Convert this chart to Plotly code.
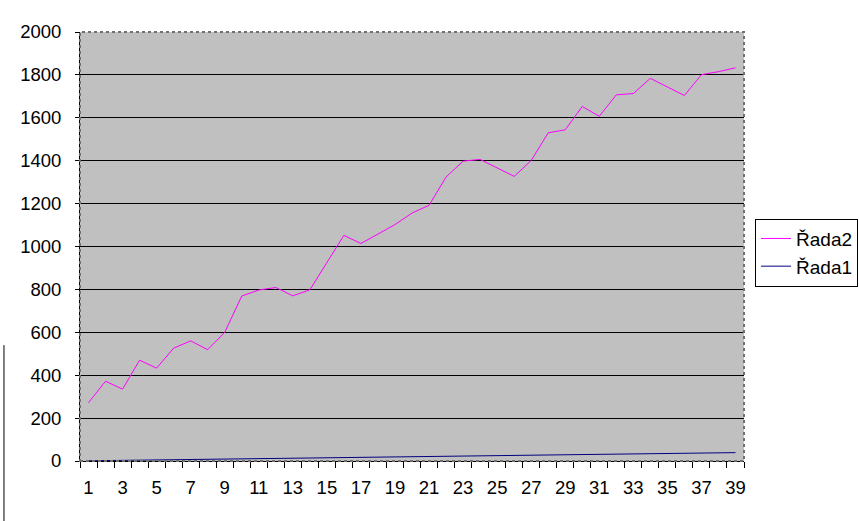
import plotly.graph_objects as go

categories = list(range(1, 40))
rada2 = [272, 372, 335, 470, 433, 526, 560, 519, 600, 769,
         797, 809, 770, 798, 925, 1052, 1014, 1060, 1102, 1156,
         1192, 1324, 1398, 1406, 1367, 1327, 1401, 1530, 1544, 1653,
         1607, 1707, 1713, 1784, 1744, 1704, 1801, 1815, 1833]
rada1 = [1, 2, 3, 4, 5, 6, 7, 8, 9, 10,
         11, 12, 13, 14, 15, 16, 17, 18, 19, 20,
         21, 22, 23, 24, 25, 26, 27, 28, 29, 30,
         31, 32, 33, 34, 35, 36, 37, 38, 39]
x_tick_labels = [str(c) for c in categories[::2]]
y_ticks = list(range(0, 2001, 200))

fig = go.Figure()
fig.add_trace(go.Scatter(x=categories, y=rada1, mode="lines", name="Řada1",
                         line=dict(color="#000080", width=1)))
fig.add_trace(go.Scatter(x=categories, y=rada2, mode="lines", name="Řada2",
                         line=dict(color="#FF00FF", width=1)))

font = "Liberation Sans, Arial, sans-serif"
fig.update_layout(
    width=859, height=521,
    margin=dict(l=80, r=115, t=32, b=60, autoexpand=False),
    paper_bgcolor="white",
    plot_bgcolor="#C0C0C0",
    font=dict(family=font, size=18.5, color="black"),
    showlegend=True,
    legend=dict(x=1.0166, y=0.565, xanchor="left", yanchor="top",
                traceorder="reversed", bordercolor="black", borderwidth=1,
                bgcolor="white", font=dict(size=19),
                itemwidth=30, tracegroupgap=0),
    xaxis=dict(range=[0.5, 39.5], tickmode="array",
               tickvals=categories[::2], ticktext=x_tick_labels,
               ticks="", showgrid=False, zeroline=False,
               showline=True, linecolor="black", linewidth=1,
               ticklabelstandoff=10,
               minor=dict(tickvals=[c - 0.5 for c in categories] + [39.5],
                          ticks="outside", ticklen=6, tickcolor="black",
                          tickwidth=1, showgrid=False)),
    yaxis=dict(range=[0, 2000], tickmode="array", tickvals=y_ticks,
               ticks="outside", ticklen=4, tickcolor="black",
               showgrid=True, gridcolor="black", gridwidth=1,
               zeroline=False, showline=True, linecolor="black",
               linewidth=1, ticklabelstandoff=10),
    shapes=[
        dict(type="rect", xref="paper", yref="paper", x0=0, y0=0, x1=1, y1=1,
             line=dict(color="#707070", width=2, dash="dot"), layer="above"),
        dict(type="line", xref="paper", yref="paper", x0=-0.1145, x1=-0.1145,
             y0=-0.14, y1=0.27, line=dict(color="black", width=1)),
    ],
)

fig.write_html("out.html",
               config={"displayModeBar": False},
               post_script="document.body.style.margin='0';"
                           "document.body.style.overflow='hidden';")
